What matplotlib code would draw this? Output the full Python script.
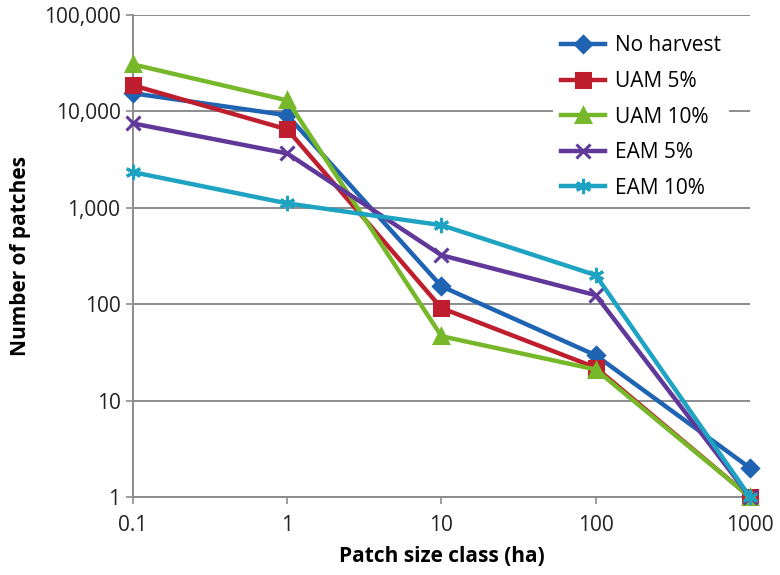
import matplotlib
matplotlib.use("Agg")
import matplotlib.pyplot as plt
from matplotlib.ticker import FuncFormatter

plt.rcParams['font.family'] = ['Open Sans', 'DejaVu Sans']

# patch size classes (ha)
classes = ["0.1", "1", "10", "100", "1000"]

no_harvest = [15400, 9100, 153, 29.5, 2]
uam_5 = [18600, 6500, 91, 22, 1]
uam_10 = [30700, 13000, 46.5, 21, 1]
eam_5 = [7500, 3660, 322, 124, 1]
eam_10 = [2340, 1110, 660, 200, 1]

names = ["No harvest", "UAM 5%", "UAM 10%", "EAM 5%", "EAM 10%"]
colors = ["#1F63B3", "#BE1E2D", "#77B82A", "#60389A", "#1FA3C3"]
markers = ["D", "s", "^", "x", (6, 2, 0)]
sizes = [8, 10, 10, 10, 11]

fs = 15

fig = plt.figure(figsize=(7.8, 5.75), dpi=100)
ax = fig.add_axes([0.1705, 0.1357, 0.7910, 0.8383])

x = list(range(len(classes)))
allser = [no_harvest, uam_5, uam_10, eam_5, eam_10]
for i in range(len(allser)):
    ax.plot(x, allser[i], color=colors[i], lw=3.2, marker=markers[i],
            ms=sizes[i], mew=2.2, mfc=colors[i], mec=colors[i],
            label=names[i], zorder=3, clip_on=False)

ax.set_yscale("log")
ax.set_ylim(1, 100000)
ax.set_xlim(0, 4)
ax.set_xticks(x)
ax.set_xticklabels(classes)
ax.set_yticks([1, 10, 100, 1000, 10000, 100000])
ax.yaxis.set_major_formatter(FuncFormatter(lambda v, p: "{:,}".format(int(round(v)))))
ax.minorticks_off()
ax.yaxis.grid(True, color="#8c8c8c", lw=1.4)
ax.set_axisbelow(True)

for s in ["top", "right"]:
    ax.spines[s].set_visible(False)
for s in ["left", "bottom"]:
    ax.spines[s].set_color("#8c8c8c")
    ax.spines[s].set_linewidth(1.4)
ax.tick_params(axis="both", colors="#8c8c8c", labelcolor="#222222", labelsize=fs,
               length=5, width=1.2, pad=4)
ax.tick_params(axis="x", pad=8)

ax.set_xlabel("Patch size class (ha)", fontsize=fs, fontweight="bold", labelpad=7)
ax.set_ylabel("Number of patches", fontsize=fs, fontweight="bold", labelpad=9)

leg = ax.legend(loc="upper left", bbox_to_anchor=(0.68, 0.975), borderaxespad=0,
                frameon=True, fontsize=fs, handlelength=2.1, handletextpad=0.5,
                labelspacing=0.7, borderpad=0.4, fancybox=False)
leg.get_frame().set_edgecolor("none")
leg.get_frame().set_facecolor("white")
leg.get_frame().set_alpha(1)
leg.set_zorder(5)

fig.savefig("out.png", dpi=100)
